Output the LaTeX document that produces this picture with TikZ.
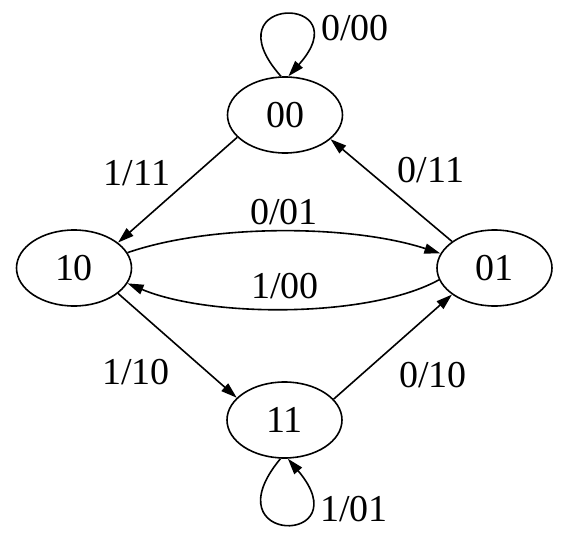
\documentclass[tikz,border=0pt]{standalone}
\usepackage{fontspec}
\setmainfont{Liberation Serif}
\usetikzlibrary{shapes.geometric,arrows.meta}
\begin{document}
\begin{tikzpicture}[x=1pt,y=-1pt,
  state/.style={draw,ellipse,minimum width=115pt,minimum height=76pt,inner sep=0pt,line width=1.6pt},
  lab/.style={inner sep=0pt},
  edge/.style={line width=1.6pt,-{Triangle[length=16pt,width=10pt]}},
  font=\fontsize{38}{40}\selectfont]
\useasboundingbox (0,0) rectangle (566,536);
\node[state] (n00) at (285,115) {00};
\node[state] (n10) at (74,268) {10};
\node[state] (n01) at (494.5,268) {01};
\node[state] (n11) at (284.5,420) {11};
% loops
\draw[edge] (n00.96) .. controls (208,-6) and (362,-6) .. (n00.85);
\draw[edge] (n11.264) .. controls (208,546) and (362,546) .. (n11.275);
% straight edges
\draw[edge] (n00.205) -- (n10.30);
\draw[edge] (n01.148) -- (n00.332);
\draw[edge] (n10.-30) -- (n11.155);
\draw[edge] (n11.23) -- (n01.212);
% curved edges
\draw[edge] (n10.16) .. controls (210,224) and (350,224) .. (n01.165);
\draw[edge] (n01.192) .. controls (370,318) and (210,318) .. (n10.-16);
% labels
\node[lab] (l000) at (355,28) {0/00};
\node[lab] (l111) at (137,173) {1/11};
\node[lab] (l011) at (431,170) {0/11};
\node[lab] (l001) at (284,212) {0/01};
\node[lab] (l100) at (285,286) {1/00};
\node[lab] (l110) at (136,372) {1/10};
\node[lab] (l010) at (433,375) {0/10};
\node[lab] (l101) at (354,509) {1/01};
\end{tikzpicture}
\end{document}
